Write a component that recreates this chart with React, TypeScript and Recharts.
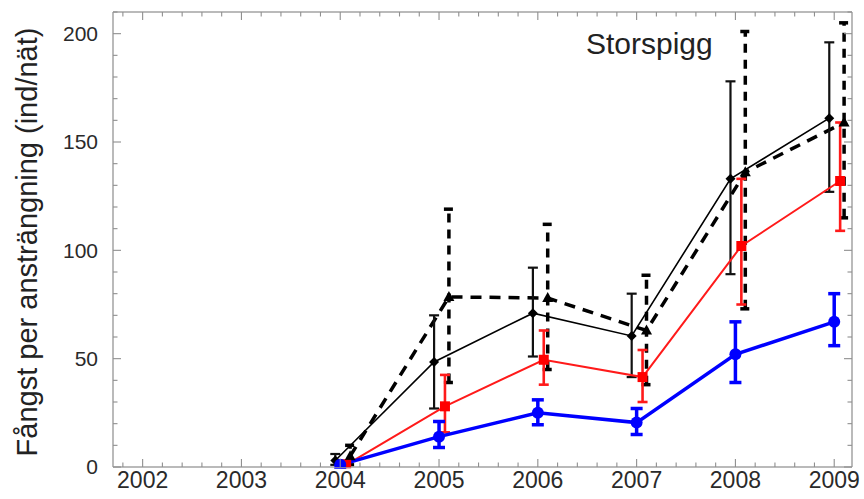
import React from 'react';
import { ComposedChart, Line, XAxis, YAxis, ErrorBar } from 'recharts';

const years = [2004, 2005, 2006, 2007, 2008, 2009];

const blueVals = [1, 14, 25, 20.5, 52, 67];
const blueLo = [0, 9, 19.5, 15, 39, 56];
const blueHi = [2.5, 21, 31, 27, 67, 80];

const redVals = [1, 28, 49.5, 41.5, 102, 132];
const redLo = [0, 16, 38, 30, 75, 109];
const redHi = [3, 42.5, 63, 54, 133, 159];

const blackVals = [3, 48.5, 71, 60.5, 133, 161];
const blackLo = [1, 27, 51, 41.5, 89, 127];
const blackHi = [6, 70, 92, 80, 178, 196];

const dashVals = [5, 78.5, 78, 63, 136, 159];
const dashLo = [1, 39, 45, 38, 73, 115];
const dashHi = [10, 119, 112, 88.5, 201, 205];

const xMajor = [2002, 2003, 2004, 2005, 2006, 2007, 2008, 2009];
const yMajor = [0, 50, 100, 150, 200];

const X_DOMAIN: [number, number] = [2001.7, 2009.18];
const Y_DOMAIN: [number, number] = [0, 210];

const xTicks: number[] = [];
for (let i = 0; i <= 40; i++) {
  const v = Math.round((2001.8 + i * 0.2) * 10) / 10;
  if (v <= 2009.18) xTicks.push(v);
}
const yTicks: number[] = [];
for (let v = 0; v <= 210; v += 10) yTicks.push(v);

function build(vals: number[], lo: number[], hi: number[], shift: number) {
  return years.map((yr, i) => ({
    x: yr + shift,
    y: vals[i],
    err: [vals[i] - lo[i], hi[i] - vals[i]],
  }));
}

const blueData = build(blueVals, blueLo, blueHi, 0);
const redData = build(redVals, redLo, redHi, 0.06);
const blackData = build(blackVals, blackLo, blackHi, -0.05);
const dashData = build(dashVals, dashLo, dashHi, 0.1);

const FRAME = '#a3a3a3';
const TICKCOL = '#8f8f8f';
const FONT = 'Liberation Sans, Arial, sans-serif';
const MAJ = 8;
const MIN = 4.5;

const isXMajor = (v: number) => xMajor.some((m) => Math.abs(m - v) < 1e-6);
const isYMajor = (v: number) => yMajor.some((m) => Math.abs(m - v) < 1e-6);

const BottomTick = (p: any) => {
  const v = p.payload.value;
  const major = isXMajor(v);
  return (
    <g>
      <line x1={p.x} x2={p.x} y1={p.y} y2={p.y - (major ? MAJ : MIN)} stroke={TICKCOL} strokeWidth={1.1} />
      {major && (
        <text x={p.x} y={p.y + 5} dy="0.71em" textAnchor="middle" fontSize={23} fontFamily={FONT} fill="#2a2a2a">
          {v}
        </text>
      )}
    </g>
  );
};
const TopTick = (p: any) => {
  const major = isXMajor(p.payload.value);
  return (
    <line x1={p.x} x2={p.x} y1={p.y} y2={p.y + (major ? MAJ : MIN)} stroke={TICKCOL} strokeWidth={1.1} />
  );
};
const LeftTick = (p: any) => {
  const v = p.payload.value;
  const major = isYMajor(v);
  return (
    <g>
      <line x1={p.x} x2={p.x + (major ? MAJ : MIN)} y1={p.y} y2={p.y} stroke={TICKCOL} strokeWidth={1.1} />
      {major && (
        <text x={p.x - 15} y={p.y} dy="0.355em" textAnchor="end" fontSize={21} fontFamily={FONT} fill="#2a2a2a">
          {v}
        </text>
      )}
    </g>
  );
};
const RightTick = (p: any) => {
  const major = isYMajor(p.payload.value);
  return (
    <line x1={p.x} x2={p.x - (major ? MAJ : MIN)} y1={p.y} y2={p.y} stroke={TICKCOL} strokeWidth={1.1} />
  );
};

const circleDot = (p: any) => (
  <circle key={`c${p.index}`} cx={p.cx} cy={p.cy} r={6} fill="#0000ff" />
);
const squareDot = (p: any) => (
  <rect key={`s${p.index}`} x={p.cx - 5} y={p.cy - 5} width={10} height={10} fill="#ff0000" />
);
const diamondDot = (p: any) => (
  <polygon
    key={`d${p.index}`}
    points={`${p.cx},${p.cy - 5} ${p.cx + 5},${p.cy} ${p.cx},${p.cy + 5} ${p.cx - 5},${p.cy}`}
    fill="#000"
  />
);
const triDot = (p: any) => (
  <polygon
    key={`t${p.index}`}
    points={`${p.cx},${p.cy - 6} ${p.cx + 5.5},${p.cy + 4} ${p.cx - 5.5},${p.cy + 4}`}
    fill="#000"
  />
);

const axisLineStyle = { stroke: FRAME, strokeWidth: 1.5 };

export default function App() {
  return (
    <div style={{ position: 'absolute', left: 0, top: 0, width: 864, height: 499, background: '#fff' }}>
      <ComposedChart
        width={864}
        height={499}
        data={blueData}
        margin={{ top: 11, right: 11, bottom: 0, left: 0 }}
      >
        <XAxis
          xAxisId="main"
          dataKey="x"
          type="number"
          domain={X_DOMAIN}
          allowDataOverflow
          ticks={xTicks}
          interval={0}
          tickLine={false}
          tickSize={0}
          tickMargin={0}
          height={32}
          axisLine={axisLineStyle}
          tick={BottomTick}
        />
        <XAxis
          xAxisId="top"
          orientation="top"
          dataKey="x"
          type="number"
          domain={X_DOMAIN}
          allowDataOverflow
          ticks={xTicks}
          interval={0}
          tickLine={false}
          tickSize={0}
          tickMargin={0}
          height={1}
          axisLine={axisLineStyle}
          tick={TopTick}
        />
        <YAxis
          yAxisId="main"
          dataKey="y"
          type="number"
          domain={Y_DOMAIN}
          allowDataOverflow
          ticks={yTicks}
          interval={0}
          tickLine={false}
          tickSize={0}
          tickMargin={0}
          width={113}
          axisLine={axisLineStyle}
          tick={LeftTick}
        />
        <YAxis
          yAxisId="right"
          orientation="right"
          dataKey="y"
          type="number"
          domain={Y_DOMAIN}
          allowDataOverflow
          ticks={yTicks}
          interval={0}
          tickLine={false}
          tickSize={0}
          tickMargin={0}
          width={1}
          axisLine={axisLineStyle}
          tick={RightTick}
        />

        <Line
          xAxisId="main"
          yAxisId="main"
          data={dashData}
          dataKey="y"
          stroke="#000"
          strokeWidth={3.5}
          strokeDasharray="11 8"
          dot={triDot}
          activeDot={false}
          isAnimationActive={false}
        >
          <ErrorBar dataKey="err" direction="y" width={5} stroke="#000" strokeWidth={3.5} strokeDasharray="9 7" />
        </Line>
        <Line
          xAxisId="main"
          yAxisId="main"
          data={blackData}
          dataKey="y"
          stroke="#000"
          strokeWidth={1.6}
          dot={diamondDot}
          activeDot={false}
          isAnimationActive={false}
        >
          <ErrorBar dataKey="err" direction="y" width={5} stroke="#111" strokeWidth={2.2} />
        </Line>
        <Line
          xAxisId="main"
          yAxisId="main"
          data={redData}
          dataKey="y"
          stroke="#ff1a1a"
          strokeWidth={2}
          dot={squareDot}
          activeDot={false}
          isAnimationActive={false}
        >
          <ErrorBar dataKey="err" direction="y" width={5} stroke="#ff1a1a" strokeWidth={2.6} />
        </Line>
        <Line
          xAxisId="main"
          yAxisId="main"
          data={blueData}
          dataKey="y"
          stroke="#0000ff"
          strokeWidth={3.5}
          dot={circleDot}
          activeDot={false}
          isAnimationActive={false}
        >
          <ErrorBar dataKey="err" direction="y" width={6} stroke="#0000ff" strokeWidth={3.5} />
        </Line>
      </ComposedChart>
      <svg
        width={864}
        height={499}
        style={{ position: 'absolute', left: 0, top: 0, pointerEvents: 'none' }}
      >
        <text
          x={27}
          y={242}
          transform="rotate(-90 27 242)"
          textAnchor="middle"
          dominantBaseline="central"
          fontSize={29}
          fontFamily={FONT}
          fill="#222"
        >
          Fångst per ansträngning (ind/nät)
        </text>
      </svg>
      <div
        style={{
          position: 'absolute',
          left: 586,
          top: 27,
          fontFamily: FONT,
          fontSize: 30,
          color: '#222',
          lineHeight: '34px',
        }}
      >
        Storspigg
      </div>
    </div>
  );
}
